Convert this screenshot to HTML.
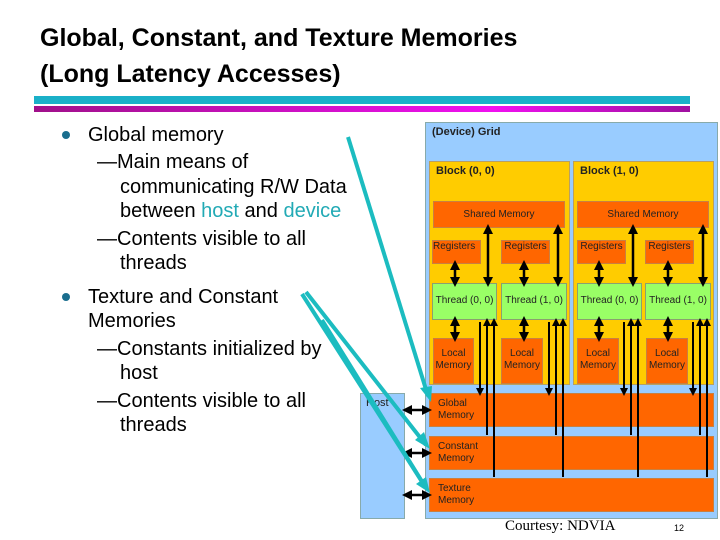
<!DOCTYPE html>
<html><head><meta charset="utf-8"><style>
body{margin:0;width:720px;height:540px;background:#fff;position:relative;overflow:hidden;font-family:"Liberation Sans",sans-serif}
.a{position:absolute;white-space:nowrap}
.t{font-weight:bold;font-size:25px;left:40px;color:#000}
.b{font-size:20px;color:#000;line-height:20px}
.dot{position:absolute;width:8px;height:8px;border-radius:4px;background:#1a6e8e}
.c{color:#22aab5}
.bx{position:absolute;box-sizing:border-box}
.sm{font-size:10px;color:#222;text-align:center}
.or{background:#ff6600;border:1px solid #c98040}
.gr{background:#99ff66;border:1px solid #8aa070}
</style></head><body>
<div class="a t" style="top:24px">Global, Constant, and Texture Memories</div>
<div class="a t" style="top:60px">(Long Latency Accesses)</div>
<div class="bx" style="left:34px;top:96px;width:656px;height:8px;background:#1ab0c8"></div>
<div class="bx" style="left:34px;top:106px;width:656px;height:6px;background:linear-gradient(90deg,#a0108a,#f010f0 70%,#a010a0)"></div>

<div class="dot" style="left:62px;top:131px"></div>
<div class="dot" style="left:62px;top:293px"></div>
<div class="a b" style="left:88px;top:125px">Global memory</div>
<div class="a b" style="left:97px;top:152px">—Main means of</div>
<div class="a b" style="left:120px;top:177px">communicating R/W Data</div>
<div class="a b" style="left:120px;top:201px">between <span class="c">host</span> and <span class="c">device</span></div>
<div class="a b" style="left:97px;top:229px">—Contents visible to all</div>
<div class="a b" style="left:120px;top:253px">threads</div>
<div class="a b" style="left:88px;top:287px">Texture and Constant</div>
<div class="a b" style="left:88px;top:311px">Memories</div>
<div class="a b" style="left:97px;top:339px">—Constants initialized by</div>
<div class="a b" style="left:120px;top:363px">host</div>
<div class="a b" style="left:97px;top:391px">—Contents visible to all</div>
<div class="a b" style="left:120px;top:415px">threads</div>

<!-- host -->
<div class="bx" style="left:360px;top:393px;width:45px;height:126px;background:#99ccff;border:1px solid #8aa"></div>
<div class="a sm" style="left:366px;top:397px;font-size:11px">Host</div>
<!-- grid -->
<div class="bx" style="left:425px;top:122px;width:293px;height:397px;background:#99ccff;border:1px solid #8aa"></div>
<div class="a sm" style="left:432px;top:126px;font-weight:bold;font-size:11px">(Device) Grid</div>

<div class="bx" style="left:429px;top:161px;width:141px;height:224px;background:#ffcc00;border:1px solid #b9a060"></div>
<div class="bx" style="left:573px;top:161px;width:141px;height:224px;background:#ffcc00;border:1px solid #b9a060"></div>
<div class="a sm" style="left:436px;top:165px;font-weight:bold;font-size:11px">Block (0, 0)</div>
<div class="a sm" style="left:580px;top:165px;font-weight:bold;font-size:11px">Block (1, 0)</div>

<div class="bx or sm" style="left:433px;top:201px;width:132px;height:27px;line-height:26px">Shared Memory</div>
<div class="bx or sm" style="left:577px;top:201px;width:132px;height:27px;line-height:26px">Shared Memory</div>

<div class="bx or sm" style="left:432px;top:240px;width:49px;height:24px;line-height:12px;text-align:left">Registers</div>
<div class="bx or sm" style="left:501px;top:240px;width:49px;height:24px;line-height:12px">Registers</div>
<div class="bx or sm" style="left:577px;top:240px;width:49px;height:24px;line-height:12px">Registers</div>
<div class="bx or sm" style="left:645px;top:240px;width:49px;height:24px;line-height:12px">Registers</div>

<div class="bx gr sm" style="left:432px;top:283px;width:65px;height:37px;line-height:34px">Thread (0, 0)</div>
<div class="bx gr sm" style="left:501px;top:283px;width:66px;height:37px;line-height:34px">Thread (1, 0)</div>
<div class="bx gr sm" style="left:577px;top:283px;width:65px;height:37px;line-height:34px">Thread (0, 0)</div>
<div class="bx gr sm" style="left:645px;top:283px;width:66px;height:37px;line-height:34px">Thread (1, 0)</div>

<div class="bx or sm" style="left:433px;top:338px;width:41px;height:46px;padding-top:9px;line-height:12px">Local<br>Memory</div>
<div class="bx or sm" style="left:501px;top:338px;width:42px;height:46px;padding-top:9px;line-height:12px">Local<br>Memory</div>
<div class="bx or sm" style="left:577px;top:338px;width:42px;height:46px;padding-top:9px;line-height:12px">Local<br>Memory</div>
<div class="bx or sm" style="left:646px;top:338px;width:42px;height:46px;padding-top:9px;line-height:12px">Local<br>Memory</div>

<div class="bx or sm" style="left:429px;top:393px;width:285px;height:34px;padding:4px 8px;line-height:12px;text-align:left">Global<br>Memory</div>
<div class="bx or sm" style="left:429px;top:436px;width:285px;height:34px;padding:4px 8px;line-height:12px;text-align:left">Constant<br>Memory</div>
<div class="bx or sm" style="left:429px;top:478px;width:285px;height:34px;padding:4px 8px;line-height:12px;text-align:left">Texture<br>Memory</div>

<svg class="a" style="left:0;top:0" width="720" height="540">
<defs><marker id="h" markerWidth="4" markerHeight="4" refX="2" refY="2" orient="auto-start-reverse" markerUnits="strokeWidth"><path d="M0,0L4,2L0,4z" fill="#000"/></marker></defs>
<g stroke="#000" stroke-width="2.5" marker-start="url(#h)" marker-end="url(#h)">
<line x1="455" y1="265" x2="455" y2="282"/><line x1="524" y1="265" x2="524" y2="282"/><line x1="599" y1="265" x2="599" y2="282"/><line x1="668" y1="265" x2="668" y2="282"/>
<line x1="488" y1="229" x2="488" y2="282"/><line x1="558" y1="229" x2="558" y2="282"/><line x1="633" y1="229" x2="633" y2="282"/><line x1="703" y1="229" x2="703" y2="282"/>
<line x1="455" y1="321" x2="455" y2="337"/><line x1="524" y1="321" x2="524" y2="337"/><line x1="599" y1="321" x2="599" y2="337"/><line x1="668" y1="321" x2="668" y2="337"/>
<line x1="407" y1="410" x2="427" y2="410"/><line x1="407" y1="453" x2="427" y2="453"/><line x1="407" y1="495" x2="427" y2="495"/>
</g>
<g stroke="#000" stroke-width="2">
<line x1="480" y1="322" x2="480" y2="392" marker-end="url(#h)"/><line x1="487" y1="322" x2="487" y2="435" marker-start="url(#h)"/><line x1="494" y1="322" x2="494" y2="477" marker-start="url(#h)"/>
<line x1="549" y1="322" x2="549" y2="392" marker-end="url(#h)"/><line x1="556" y1="322" x2="556" y2="435" marker-start="url(#h)"/><line x1="563" y1="322" x2="563" y2="477" marker-start="url(#h)"/>
<line x1="624" y1="322" x2="624" y2="392" marker-end="url(#h)"/><line x1="631" y1="322" x2="631" y2="435" marker-start="url(#h)"/><line x1="638" y1="322" x2="638" y2="477" marker-start="url(#h)"/>
<line x1="693" y1="322" x2="693" y2="392" marker-end="url(#h)"/><line x1="700" y1="322" x2="700" y2="435" marker-start="url(#h)"/><line x1="707" y1="322" x2="707" y2="477" marker-start="url(#h)"/>
</g>
<g stroke="#1cbcc0" stroke-width="4" fill="#1cbcc0">
<line x1="348" y1="137" x2="428" y2="396"/>
<line x1="306" y1="292" x2="426" y2="445"/>
<line x1="302" y1="294" x2="426" y2="488"/>
<line x1="322" y1="320" x2="426" y2="488"/>
<path d="M431,402L420,388L432,386z" stroke="none"/>
<path d="M430,449L415,440L424,432z" stroke="none"/>
<path d="M430,493L416,484L426,477z" stroke="none"/>
</g>
</svg>
<div class="a" style="left:505px;top:518px;font-family:'Liberation Serif',serif;font-size:15px">Courtesy: NDVIA</div>
<div class="a" style="left:674px;top:523px;font-size:9px">12</div>
</body></html>
